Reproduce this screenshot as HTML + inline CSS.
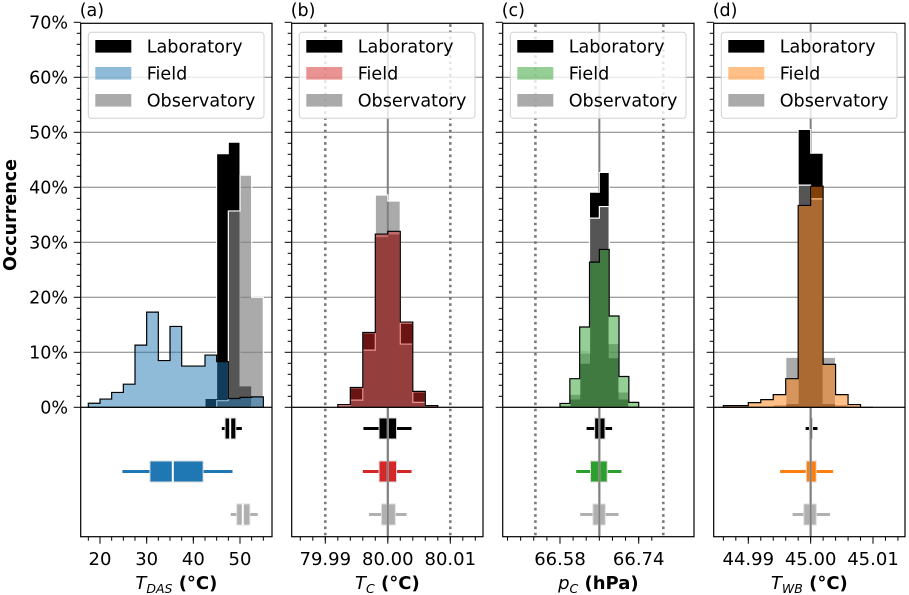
<!DOCTYPE html>
<html><head><meta charset="utf-8"><style>
html,body{margin:0;padding:0;background:#fff;}
svg{display:block;font-family:"DejaVu Sans","Liberation Sans",sans-serif;}
</style></head><body>
<svg id="fig" width="909" height="595" viewBox="0 0 909 595" xmlns="http://www.w3.org/2000/svg">
<text transform="translate(16,215) rotate(-90)" text-anchor="middle" font-size="17.5" font-weight="bold">Occurrence</text>
</svg>
<script>
// ---- data ----
const aBinStart = 17.5, aBinWidth = 2.5;
const aLab   = [0,0,0,0,0,0,0,0,0,0,1.6,46.1,48.2,3.9,0];
const aField = [0.73,1.5,2.7,4.2,11.3,17.3,8.5,14.7,7.5,7.5,9.5,8.3,1.6,1.8,1.9];
const aObs   = [0,0,0,0,0,0,0,0,0,0,0,1.2,35.7,42.2,20];
const aLabBox   = [46.1,46.8,47.9,49.1,50.4];
const aFieldBox = [24.8,30.7,35.6,42.1,48.4];
const aObsBox   = [48.0,49.3,50.6,52.1,53.8];
const aTicks = [20,30,40,50];
const aTickLabels = ["20","30","40","50"];

const bBinStart = 79.992, bBinWidth = 0.002;
const bLab   = [0.5,3.5,13.5,31.0,31.5,15.3,2.8,0.2];
const bField = [0.5,3.6,13.6,31.5,32.0,15.5,2.9,0.3];
const bObs   = [0.3,1.3,10.4,38.6,37.5,11.5,0.9,0];
const bLabBox   = [79.9961,79.9986,80.0,80.0014,80.0038];
const bFieldBox = [79.9960,79.9986,80.0,80.0014,80.0038];
const bObsBox   = [79.9970,79.9990,80.0,80.0012,80.0030];
const bTicks = [79.99,80.00,80.01];
const bTickLabels = ["79.99","80.00","80.01"];
const bRef = 80.00, bLimits = [79.99,80.01];

const cBinStart = 66.58, cBinWidth = 0.02;
const cLab   = [0.3,1.5,8,39.1,42.7,9,1.5,0.2];
const cField = [0.7,5.2,14.6,26.4,28.7,16.6,5.6,0.9];
const cObs   = [0.4,2.4,9.9,34.4,36.5,11.6,2.8,0.3];
const cLabBox   = [66.634,66.6505,66.66,66.6715,66.686];
const cFieldBox = [66.613,66.642,66.66,66.676,66.705];
const cObsBox   = [66.621,66.647,66.66,66.672,66.699];
const cTicks = [66.58,66.74];
const cTickLabels = ["66.58","66.74"];
const cRef = 66.66, cLimits = [66.53,66.79];

const dBinStart = 44.986, dBinWidth = 0.002;
const dLab   = [0,0,0,0,0,0.7,50.5,46.2,0.7,0,0,0.2];
const dField = [0.3,0.3,0.85,1.4,2.3,5.2,36.7,40.2,7.8,2.3,0.5,0];
const dObs   = [0,0,0,0,0.5,9.1,40.4,37.9,9.1,0.5,0,0];
const dLabBox   = [44.9992,44.9998,45.0,45.0003,45.0011];
const dFieldBox = [44.9951,44.9993,45.0,45.0009,45.0036];
const dObsBox   = [44.9971,44.9989,45.0,45.0009,45.0031];
const dTicks = [44.99,45.00,45.01];
const dTickLabels = ["44.99","45.00","45.01"];
const dRef = 45.00;

const yTicks = [0,10,20,30,40,50,60,70];
const yTickLabels = ["0%","10%","20%","30%","40%","50%","60%","70%"];

// ---- layout ----
const NS = "http://www.w3.org/2000/svg";
const svg = document.getElementById('fig');
const TOP = 23.3, MID = 407.3, BOT = 536.7, W = 191.3;
const yPct = p => MID - p * 5.5;
function el(tag, attrs, parent) {
  const e = document.createElementNS(NS, tag);
  for (const k in attrs) e.setAttribute(k, attrs[k]);
  (parent || svg).appendChild(e);
  return e;
}
function histPath(x, start, width, vals) {
  let d = "M" + x(start) + "," + MID;
  vals.forEach((v, i) => {
    d += " L" + x(start + i * width) + "," + yPct(v) + " L" + x(start + (i + 1) * width) + "," + yPct(v);
  });
  d += " L" + x(start + vals.length * width) + "," + MID + " Z";
  return d;
}

const panels = [
  {id:"a", left:80.7, t0:20, p0:100, t1:50, p1:240, start:aBinStart, width:aBinWidth, lab:aLab, field:aField, obs:aObs,
   labBox:aLabBox, fieldBox:aFieldBox, obsBox:aObsBox, ticks:aTicks, tickLabels:aTickLabels, minorStart:17.5, minorStep:2.5, minorN:16,
   color:"#1f77b4", light:"rgba(31,119,180,0.5)", xl:["T","DAS"," (°C)"], ref:null, limits:null},
  {id:"b", left:291.7, t0:79.99, p0:325.3, t1:80.01, p1:450.3, start:bBinStart, width:bBinWidth, lab:bLab, field:bField, obs:bObs,
   labBox:bLabBox, fieldBox:bFieldBox, obsBox:bObsBox, ticks:bTicks, tickLabels:bTickLabels, minorStart:79.984, minorStep:0.002, minorN:17,
   color:"#d62728", light:"rgba(214,39,40,0.5)", xl:["T","C"," (°C)"], ref:bRef, limits:bLimits},
  {id:"c", left:502.7, t0:66.58, p0:560, t1:66.74, p1:638.7, start:cBinStart, width:cBinWidth, lab:cLab, field:cField, obs:cObs,
   labBox:cLabBox, fieldBox:cFieldBox, obsBox:cObsBox, ticks:cTicks, tickLabels:cTickLabels, minorStart:66.4733, minorStep:0.16/6, minorN:12,
   color:"#2ca02c", light:"rgba(44,160,44,0.5)", xl:["p","C"," (hPa)"], ref:cRef, limits:cLimits},
  {id:"d", left:713.7, t0:44.99, p0:748.3, t1:45.01, p1:873, start:dBinStart, width:dBinWidth, lab:dLab, field:dField, obs:dObs,
   labBox:dLabBox, fieldBox:dFieldBox, obsBox:dObsBox, ticks:dTicks, tickLabels:dTickLabels, minorStart:44.984, minorStep:0.002, minorN:17,
   color:"#ff7f0e", light:"rgba(255,127,14,0.5)", xl:["T","WB"," (°C)"], ref:dRef, limits:null}
];

const defs = el('defs', {});
panels.forEach(P => {
  const k = (P.p1 - P.p0) / (P.t1 - P.t0);
  const x = v => P.p0 + (v - P.t0) * k;
  const L = P.left, R = P.left + W;
  const g = el('g', {});
  
  
  const cp = el('clipPath', {id: 'clip' + P.id}, defs);
  el('rect', {x: L, y: TOP, width: W, height: BOT - TOP}, cp);

  yTicks.forEach(t => {
    if (t === 70) return;
    const gl = el('line', {x1: L, x2: R, y1: yPct(t), y2: yPct(t), stroke: '#808080', 'stroke-width': 1}, g);
    
    
  });
  const inner = el('g', {'clip-path': 'url(#clip' + P.id + ')'}, g);
  if (P.limits) {
    P.limits.forEach(v => {
      const dl = el('line', {x1: x(v), x2: x(v), y1: TOP + 1, y2: BOT, stroke: '#7a7a7a', 'stroke-width': 2.6, 'stroke-dasharray': '2.6,3.6'}, inner);
      
      
    });
  }
  if (P.ref !== null) {
    const rl = el('line', {x1: x(P.ref), x2: x(P.ref), y1: TOP, y2: BOT, stroke: '#808080', 'stroke-width': 2}, inner);
    
    
  }
  const hl = el('path', {d: histPath(x, P.start, P.width, P.lab), fill: '#000', stroke: '#fff', 'stroke-width': 1}, inner);
  
  
  const ho = el('path', {d: histPath(x, P.start, P.width, P.obs), fill: 'rgba(127,127,127,0.667)', stroke: '#fff', 'stroke-width': 1.2}, inner);
  
  
  const hf = el('path', {d: histPath(x, P.start, P.width, P.field), fill: P.light, stroke: '#000', 'stroke-width': 1.2}, inner);
  
  

  const boxes = [[P.labBox, '#000', 428.5, 'laboratory'], [P.fieldBox, P.color, 471.5, 'field'], [P.obsBox, '#b0b0b0', 514.5, 'observatory']];
  boxes.forEach(([s, col, cy, nm]) => {
    const bg = el('g', {}, inner);
    
    
    el('line', {x1: x(s[0]), x2: x(s[4]), y1: cy, y2: cy, stroke: col, 'stroke-width': 3}, bg);
    el('rect', {x: x(s[1]), y: cy - 10.5, width: Math.max(1, x(s[3]) - x(s[1])), height: 21, fill: col, stroke: '#ddd', 'stroke-width': 1}, bg);
    el('line', {x1: x(s[2]), x2: x(s[2]), y1: cy - 10.5, y2: cy + 10.5, stroke: '#fff', 'stroke-width': 2}, bg);
  });
  if (P.ref !== null) {
    el('line', {x1: x(P.ref), x2: x(P.ref), y1: MID, y2: BOT, stroke: '#808080', 'stroke-width': 2}, inner);
  }

  const fr = el('rect', {x: L, y: TOP, width: W, height: BOT - TOP, fill: 'none', stroke: '#000', 'stroke-width': 1.2}, g);
  
  
  el('line', {x1: L, x2: R, y1: MID, y2: MID, stroke: '#000', 'stroke-width': 1.2}, g);

  for (let t = 0; t <= 70; t += 2) {
    const len = (t % 10 === 0) ? 7 : 4;
    el('line', {x1: L - len, x2: L, y1: yPct(t), y2: yPct(t), stroke: '#000', 'stroke-width': 1}, g);
  }
  if (P.id === 'a') {
    yTicks.forEach((t, i) => {
      const tl = el('text', {x: 68, y: yPct(t) + 6.3, 'text-anchor': 'end', 'font-size': 17.5}, g);
      tl.textContent = yTickLabels[i];
      
      
    });
  }
  for (let i = 0; i < P.minorN; i++) {
    const v = P.minorStart + i * P.minorStep;
    const px = x(v);
    if (px < L - 0.5 || px > R + 0.5) continue;
    el('line', {x1: px, x2: px, y1: BOT, y2: BOT + 4, stroke: '#000', 'stroke-width': 1}, g);
  }
  P.ticks.forEach((t, i) => {
    el('line', {x1: x(t), x2: x(t), y1: BOT, y2: BOT + 7, stroke: '#000', 'stroke-width': 1}, g);
    const tl = el('text', {x: x(t), y: 565, 'text-anchor': 'middle', 'font-size': 18}, g);
    tl.textContent = P.tickLabels[i];
    
    
  });
  const xl = el('text', {x: L + W / 2, y: 589, 'text-anchor': 'middle', 'font-size': 18}, g);
  
  
  const t1 = el('tspan', {'font-style': 'italic'}, xl); t1.textContent = P.xl[0];
  const t2 = el('tspan', {'font-style': 'italic', 'font-size': 12.5, dy: 4}, xl); t2.textContent = P.xl[1];
  const t3 = el('tspan', {'font-weight': 'bold', dy: -4}, xl); t3.textContent = P.xl[2];
  const pl = el('text', {x: L - 1, y: 16, 'font-size': 17.5}, g);
  pl.textContent = '(' + P.id + ')';
  
  

  const lg = el('g', {}, g);
  
  
  const lx = L + 7.6;
  el('rect', {x: lx, y: 32.3, width: 175.7, height: 86, rx: 3, fill: 'rgba(255,255,255,0.8)', stroke: '#d0d0d0', 'stroke-width': 1}, lg);
  const entries = [['Laboratory', '#000', 46.3], ['Field', P.light, 73.3], ['Observatory', 'rgba(127,127,127,0.667)', 100.3]];
  entries.forEach(([name, col, cy]) => {
    const eg = el('g', {}, lg);
    
    
    el('rect', {x: lx + 7, y: cy - 6.3, width: 36, height: 12.6, fill: col}, eg);
    const tx = el('text', {x: lx + 58.4, y: cy + 6.2, 'font-size': 17.6}, eg);
    tx.textContent = name;
  });
});
</script>
</body></html>
